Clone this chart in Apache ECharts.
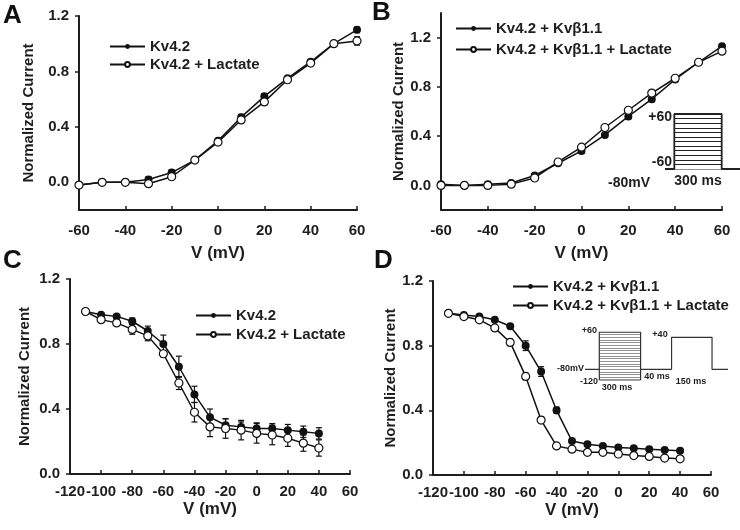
<!DOCTYPE html>
<html><head><meta charset="utf-8">
<script src="https://cdn.jsdelivr.net/npm/echarts@6/dist/echarts.min.js"></script>
<style>html,body{margin:0;padding:0;background:#fff}#c{width:740px;height:530px}</style>
</head><body><div id="c"></div>
<script>
// ---------- data ----------
const vAB = [-60,-50,-40,-30,-20,-10,0,10,20,30,40,50,60];
const A_kv      = [-0.02,0.00,0.00,0.02,0.07,0.16,0.30,0.47,0.62,0.75,0.87,1.00,1.10];
const A_kv_err  = [0.01,0.01,0.01,0.02,0.02,0.01,0.01,0.02,0.02,0.01,0.01,0.00,0.02];
const A_lac     = [-0.02,0.00,0.00,-0.01,0.04,0.16,0.29,0.45,0.58,0.74,0.86,1.00,1.02];
const A_lac_err = [0.01,0.01,0.01,0.01,0.01,0.01,0.02,0.02,0.02,0.01,0.01,0.00,0.03];

const B_kv      = [0.01,0.00,0.01,0.02,0.08,0.18,0.28,0.41,0.56,0.70,0.86,1.00,1.13];
const B_kv_err  = [0.01,0.01,0.01,0.01,0.01,0.01,0.02,0.02,0.02,0.02,0.01,0.00,0.02];
const B_lac     = [0.00,0.00,0.00,0.01,0.06,0.19,0.31,0.47,0.61,0.75,0.87,1.00,1.09];
const B_lac_err = [0.01,0.01,0.01,0.01,0.01,0.01,0.01,0.01,0.01,0.01,0.01,0.00,0.01];

const vCD = [-110,-100,-90,-80,-70,-60,-50,-40,-30,-20,-10,0,10,20,30,40];
const C_kv      = [1.00,0.98,0.97,0.94,0.88,0.80,0.66,0.49,0.35,0.30,0.29,0.28,0.28,0.27,0.26,0.25];
const C_kv_err  = [0.00,0.01,0.01,0.02,0.03,0.055,0.065,0.05,0.05,0.04,0.03,0.035,0.03,0.035,0.035,0.035];
const C_lac     = [1.00,0.95,0.93,0.89,0.85,0.74,0.56,0.38,0.29,0.28,0.27,0.25,0.24,0.22,0.19,0.16];
const C_lac_err = [0.00,0.01,0.015,0.03,0.03,0.02,0.04,0.06,0.06,0.06,0.06,0.06,0.06,0.05,0.05,0.05];

const D_kv      = [1.00,0.99,0.98,0.96,0.92,0.80,0.64,0.40,0.21,0.19,0.18,0.17,0.165,0.16,0.155,0.15];
const D_kv_err  = [0.00,0.01,0.01,0.01,0.01,0.03,0.03,0.02,0.01,0.01,0.01,0.01,0.01,0.01,0.01,0.01];
const D_lac     = [1.00,0.98,0.96,0.91,0.82,0.61,0.34,0.18,0.16,0.14,0.14,0.13,0.12,0.115,0.105,0.10];
const D_lac_err = [0.00,0.01,0.01,0.01,0.02,0.02,0.02,0.01,0.01,0.01,0.01,0.01,0.01,0.01,0.01,0.01];

const yTicks = [0, 0.4, 0.8, 1.2];

// voltage protocols (schematic: time, mV)
const protoB_levels = [-60,-50,-40,-30,-20,-10,0,10,20,30,40,50,60];
const protoB_path = [[-59,-60],[0,-60],[0,60],[300,60],[300,-60],[416,-60]];
const protoD_levels = [-120,-110,-100,-90,-80,-70,-60,-50,-40,-30,-20,-10,0,10,20,30,40,50,60];
const protoD_box = [[0,-120],[0,60],[300,60],[300,-120],[0,-120]];
const protoD_path = [[-104,-80],[0,-80]];
const protoD_tail = [[300,-80],[525,-80],[525,40],[819,40],[819,-80],[935,-80]];

// ---------- styles ----------
const FONT = "'Liberation Sans', Arial, sans-serif";
const TXT = '#1e1e1e';
const AX = '#1e1e1e';
const LINE = '#111';

function xAx(grid, min, max, margin, gap){
  return {gridIndex:grid, type:'value', min, max, interval:20,
    name:'V (mV)', nameLocation:'middle', nameGap:gap,
    nameTextStyle:{fontSize:17, fontWeight:'bold', color:TXT, fontFamily:FONT},
    axisLine:{onZero:false, lineStyle:{color:AX, width:2}},
    axisTick:{inside:true, length:4, lineStyle:{color:AX, width:1.5}},
    axisLabel:{fontSize:15, fontWeight:'bold', color:TXT, fontFamily:FONT, margin},
    splitLine:{show:false}};
}
function yAx(grid, min, max, gap){
  return {gridIndex:grid, type:'value', min, max,
    name:'Normalized Current', nameLocation:'middle', nameGap:gap,
    nameTextStyle:{fontSize:15, fontWeight:'bold', color:TXT, fontFamily:FONT},
    axisLine:{show:true, onZero:false, lineStyle:{color:AX, width:2}},
    axisTick:{show:true, length:4, customValues:yTicks, lineStyle:{color:AX, width:1.5}},
    axisLabel:{fontSize:15, fontWeight:'bold', color:TXT, fontFamily:FONT, margin:10,
      customValues:yTicks, formatter:v=>Number(v).toFixed(1)},
    splitLine:{show:false}};
}
function hidden(grid, min, max){
  return {gridIndex:grid, type:'value', min, max, show:false, splitLine:{show:false}};
}
function lineSeries(name, idx, xs, ys, filled){
  return {type:'line', name, xAxisIndex:idx, yAxisIndex:idx,
    data: xs.map((x,i)=>[x, ys[i]]),
    symbol:'circle', symbolSize:8, showSymbol:true,
    lineStyle:{color:LINE, width:1.5},
    itemStyle:{color: filled ? LINE : '#fff', borderColor:LINE, borderWidth: filled ? 0 : 1.2},
    z: filled ? 3 : 4, animation:false, silent:true};
}
function errRender(params, api){
  const x = api.value(0), y = api.value(1), e = api.value(2);
  if (!e) return null;
  const t = api.coord([x, y + e]), b = api.coord([x, y - e]);
  const w = 3, st = {stroke:LINE, lineWidth:1.2};
  return {type:'group', children:[
    {type:'line', shape:{x1:t[0], y1:t[1], x2:b[0], y2:b[1]}, style:st},
    {type:'line', shape:{x1:t[0]-w, y1:t[1], x2:t[0]+w, y2:t[1]}, style:st},
    {type:'line', shape:{x1:b[0]-w, y1:b[1], x2:b[0]+w, y2:b[1]}, style:st}
  ]};
}
function errSeries(idx, xs, ys, es){
  return {type:'custom', xAxisIndex:idx, yAxisIndex:idx, renderItem:errRender,
    data: xs.map((x,i)=>[x, ys[i], es[i]]), encode:{x:0, y:1}, z:2, silent:true, animation:false};
}
function segs(levels, x0, x1){ return levels.map(l => ({coords:[[x0,l],[x1,l]]})); }
function legend(left, top, gap, names){
  return {orient:'vertical', left, top, itemGap:gap, itemWidth:35, itemHeight:6,
    data:names, selectedMode:false,
    textStyle:{fontSize:15, fontWeight:'bold', color:TXT, fontFamily:FONT}};
}
function txt(x, y, s, size, align){
  return {type:'text', x, y, style:{text:s, fill:TXT, font:`bold ${size}px ${FONT}`,
    textAlign:align||'left', textVerticalAlign:'middle'}, silent:true};
}

const chart = echarts.init(document.getElementById('c'), null, {renderer:'canvas'});
chart.setOption({
  backgroundColor:'#fff',
  animation:false,
  textStyle:{fontFamily:FONT},
  grid:[
    {left:79, top:16, width:278, height:194},
    {left:441, top:13, width:281, height:197},
    {left:70, top:279, width:280, height:195},
    {left:433, top:281, width:278, height:194},
    {left:665, top:114, width:75, height:55},
    {left:585, top:332, width:143, height:48}
  ],
  xAxis:[xAx(0,-60,60,13,35), xAx(1,-60,60,13,35), xAx(2,-120,60,10,27), xAx(3,-120,60,10,27),
         hidden(4,-59,416), hidden(5,-104,935)],
  yAxis:[yAx(0,-0.2,1.2,43), yAx(1,-0.2,1.4,35), yAx(2,0,1.2,38), yAx(3,0,1.2,35),
         hidden(4,-60,60), hidden(5,-120,60)],
  legend:[
    legend(104, 34, 3, ['Kv4.2','Kv4.2 + Lactate']),
    legend(450, 16, 6, ['Kv4.2 + Kvβ1.1','Kv4.2 + Kvβ1.1 + Lactate']),
    legend(190, 303, 4, ['Kv4.2','Kv4.2 + Lactate']),
    legend(507, 274, 4, ['Kv4.2 + Kvβ1.1','Kv4.2 + Kvβ1.1 + Lactate'])
  ],
  series:[
    errSeries(0, vAB, A_kv, A_kv_err), errSeries(0, vAB, A_lac, A_lac_err),
    lineSeries('Kv4.2', 0, vAB, A_kv, true), lineSeries('Kv4.2 + Lactate', 0, vAB, A_lac, false),
    errSeries(1, vAB, B_kv, B_kv_err), errSeries(1, vAB, B_lac, B_lac_err),
    lineSeries('Kv4.2 + Kvβ1.1', 1, vAB, B_kv, true), lineSeries('Kv4.2 + Kvβ1.1 + Lactate', 1, vAB, B_lac, false),
    errSeries(2, vCD, C_kv, C_kv_err), errSeries(2, vCD, C_lac, C_lac_err),
    lineSeries('Kv4.2', 2, vCD, C_kv, true), lineSeries('Kv4.2 + Lactate', 2, vCD, C_lac, false),
    errSeries(3, vCD, D_kv, D_kv_err), errSeries(3, vCD, D_lac, D_lac_err),
    lineSeries('Kv4.2 + Kvβ1.1', 3, vCD, D_kv, true), lineSeries('Kv4.2 + Kvβ1.1 + Lactate', 3, vCD, D_lac, false),
    // protocol B
    {type:'lines', coordinateSystem:'cartesian2d', xAxisIndex:4, yAxisIndex:4, silent:true,
      data: segs(protoB_levels, 0, 300), lineStyle:{color:'#222', width:1.2, opacity:1}},
    {type:'line', xAxisIndex:4, yAxisIndex:4, data:protoB_path, showSymbol:false, silent:true,
      lineStyle:{color:'#222', width:1.8}},
    // protocol D
    {type:'lines', coordinateSystem:'cartesian2d', xAxisIndex:5, yAxisIndex:5, silent:true,
      data: segs(protoD_levels, 0, 300), lineStyle:{color:'#777', width:0.8, opacity:1}},
    {type:'line', xAxisIndex:5, yAxisIndex:5, data:protoD_box, showSymbol:false, silent:true,
      lineStyle:{color:'#333', width:1.2}},
    {type:'line', xAxisIndex:5, yAxisIndex:5, data:protoD_path, showSymbol:false, silent:true,
      lineStyle:{color:'#333', width:1.2}},
    {type:'line', xAxisIndex:5, yAxisIndex:5, data:protoD_tail, showSymbol:false, silent:true,
      lineStyle:{color:'#333', width:1.2}}
  ],
  graphic:[
    {type:'text', left:3, top:3, style:{text:'A', fill:'#111', font:`bold 26px ${FONT}`}},
    {type:'text', left:372, top:0, style:{text:'B', fill:'#111', font:`bold 26px ${FONT}`}},
    {type:'text', left:3, top:248, style:{text:'C', fill:'#111', font:`bold 26px ${FONT}`}},
    {type:'text', left:374, top:248, style:{text:'D', fill:'#111', font:`bold 26px ${FONT}`}},
    txt(672, 117, '+60', 14, 'right'),
    txt(672, 162, '-60', 14, 'right'),
    txt(650, 183, '-80mV', 14, 'right'),
    txt(698, 181, '300 ms', 14, 'center'),
    txt(597, 331, '+60', 9, 'right'),
    txt(584, 369, '-80mV', 9, 'right'),
    txt(598, 382, '-120', 9, 'right'),
    txt(617, 388, '300 ms', 9, 'center'),
    txt(657, 377, '40 ms', 9, 'center'),
    txt(660, 335, '+40', 9, 'center'),
    txt(691, 382, '150 ms', 9, 'center')
  ]
});
</script></body></html>
